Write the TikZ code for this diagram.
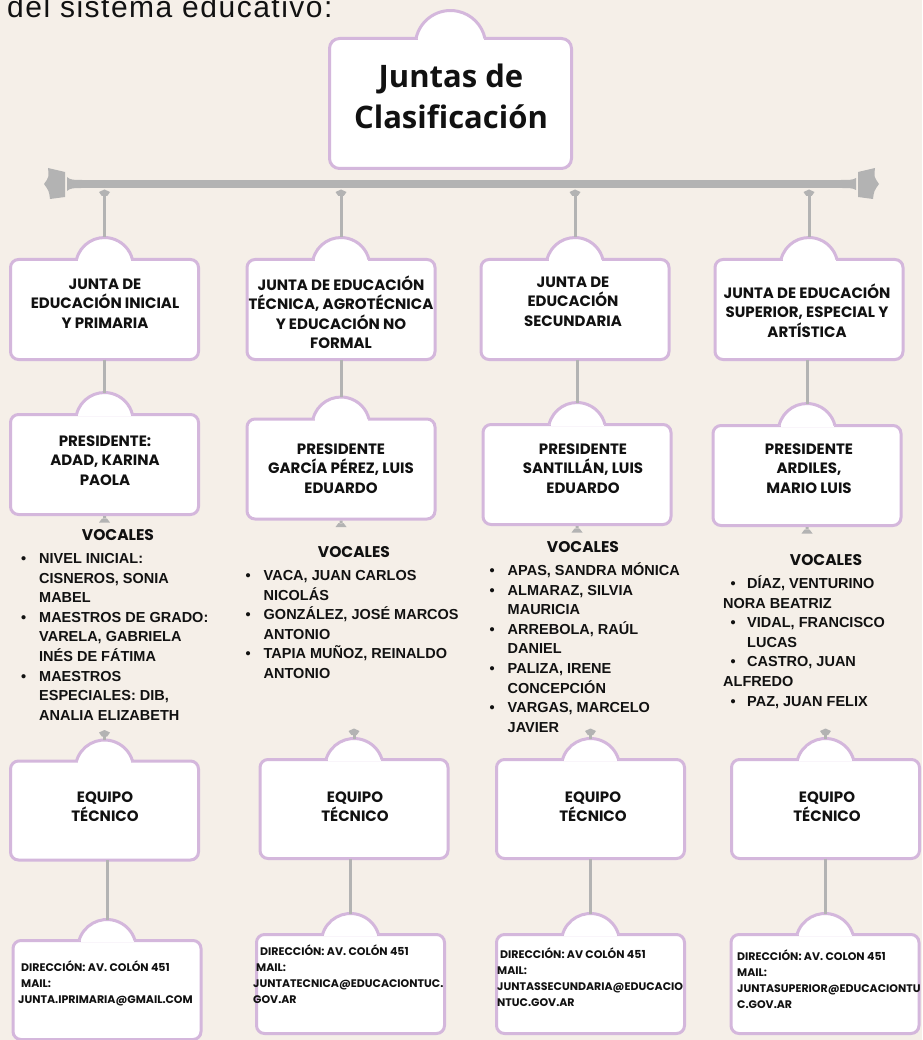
\documentclass[tikz,border=0pt]{standalone}
\usepackage{fontspec}
\setmainfont{Liberation Sans}
\newfontfamily\titlefont{Open Sans}
\newfontfamily\boxfont{Poppins}
\definecolor{fondo}{HTML}{F5EFE8}
\definecolor{lila}{HTML}{D4B7DC}
\definecolor{gris}{HTML}{B3B3B3}
\definecolor{tinta}{HTML}{111111}

% strut for the first line, bullets for the lists
\newcommand{\fs}{\rule{0pt}{1.05em}}
\newcommand{\vb}[1][18pt]{\makebox[#1][l]{\textbullet}}
\newcommand{\vi}{\hspace*{18pt}}
% tab on top of a box: node, half width, radius, start angle
\newcommand{\dome}[4]{%
  \fill[white] ([xshift=-#2pt+1.5pt,yshift=-1.6pt]#1.north) rectangle ([xshift=#2pt-1.5pt,yshift=2.5pt]#1.north);
  \filldraw[fill=white,draw=lila,line width=3pt] ([xshift=-#2pt]#1.north) arc[start angle=#4, end angle={540-#4}, radius=#3];
}

\begin{document}
\begin{tikzpicture}[x=1pt, y=-1pt, text=tinta,
  jbox/.style={draw=lila, line width=3pt, fill=white, rounded corners=8pt, minimum width=188pt, minimum height=100pt, inner sep=0pt, outer sep=0pt},
  btxt/.style={font=\boxfont\bfseries\fontsize{15}{19.5}\selectfont, align=center, inner sep=0pt, anchor=north},
  dtxt/.style={font=\boxfont\bfseries\fontsize{11}{16}\selectfont, align=left, inner sep=0pt, anchor=north west},
  vtit/.style={font=\boxfont\bfseries\fontsize{15.5}{18}\selectfont, inner sep=0pt},
  vlist/.style={font=\bfseries\fontsize{14.5}{19.6}\selectfont, align=left, inner sep=0pt, anchor=north west},
  link/.style={draw=gris, line width=3pt},
  crown/.pic={\fill[gris] (0,0) -- (5.5,2.5) -- (2.7,6.5) -- (-2.7,6.5) -- (-5.5,2.5) -- cycle;},
  bell/.pic={\fill[gris] (-1.5,0) rectangle (1.5,3) (-2.5,2.5) -- (2.5,2.5) -- (5.5,6.5) -- (-5.5,6.5) -- cycle;}]
	\useasboundingbox (0,0) rectangle (922,1040);
	\fill[fondo] (0,0) rectangle (922,1040);
	\node[anchor=base west, inner sep=0pt, font=\fontsize{30}{33}\selectfont\addfontfeatures{LetterSpace=5}] (intro) at (7,17.5) {del sistema educativo:};

	% bar
	\coordinate (barL) at (67,184);
	\coordinate (barR) at (856,184);
	\draw[gris, line width=8pt] (barL) -- (barR);
	\fill[gris] (67,177) .. controls (70,180) and (74,180) .. (82,180) -- (82,188) .. controls (74,188) and (70,188) .. (67,191) -- cycle;
	\fill[gris] (856,178) .. controls (853,180) and (849,180) .. (841,180) -- (841,188) .. controls (849,188) and (853,188) .. (856,190) -- cycle;
	\fill[gris] (48,168) -- (65,172) -- (65,197) -- (50,199) .. controls (49,191) .. (44,184) .. controls (49,177) .. (48,168) -- cycle;
	\fill[gris] (875,168) -- (858,172) -- (858,197) -- (873,199) .. controls (874,191) .. (879,184) .. controls (874,177) .. (875,168) -- cycle;

	% boxes
	\node[jbox, minimum width=242pt, minimum height=130pt, rounded corners=10pt] (titulo) at (450.5,103.5) {};
	\node[jbox] (jIni) at (104.5,309.5) {};
	\node[jbox] (jTec) at (341,309.5) {};
	\node[jbox] (jSec) at (575,309.5) {};
	\node[jbox] (jSup) at (809,309.5) {};
	\node[jbox] (pIni) at (104.5,464.5) {};
	\node[jbox] (pTec) at (341,469) {};
	\node[jbox] (pSec) at (577,474.5) {};
	\node[jbox] (pSup) at (807,475.5) {};
	\node[jbox, minimum height=99pt] (eIni) at (104.5,810.5) {};
	\node[jbox, minimum height=99pt] (eTec) at (354,809) {};
	\node[jbox, minimum height=99pt] (eSec) at (590.5,809) {};
	\node[jbox, minimum height=99pt] (eSup) at (825.5,809) {};
	\node[jbox, minimum height=99pt] (dIni) at (107,990) {};
	\node[jbox, minimum height=99pt] (dTec) at (350.5,984) {};
	\node[jbox, minimum height=99pt] (dSec) at (590.5,984) {};
	\node[jbox, minimum height=99pt] (dSup) at (825,984) {};
	\dome{titulo}{34.5}{35.25}{191.9}
	\foreach \n in {jIni,jTec,jSec,jSup,pIni,pTec,pSec,pSup} {\dome{\n}{28}{28.8}{193.7}}
	\foreach \n in {eIni,eTec,eSec,eSup,dIni,dTec,dSec,dSup} {\dome{\n}{28}{29.2}{196.3}}

	% connectors
	\foreach \c in {Ini,Tec,Sec,Sup} {
	  \pic at (j\c.north |- 0,189.5) {crown};
	  \draw[link] (j\c.north |- 0,195) -- ([yshift=22pt]j\c.north);
	  \draw[link] (p\c.north |- j\c.south) -- ([yshift=22pt]p\c.north);
	  \pic at ([yshift=-1.5pt]p\c.south) {bell};
	  \pic at ([yshift=31pt]e\c.north) {crown};
	  \draw[link] ([yshift=25pt]e\c.north) -- ([yshift=21pt]e\c.north);
	  \draw[link] (d\c.north |- e\c.south) -- ([yshift=21pt]d\c.north);
	}

	% texts
	\node[font=\titlefont\bfseries\fontsize{31}{41}\selectfont, align=center, inner sep=0pt, anchor=north] (tituloT) at (451,54.5) {\fs Juntas de\\Clasificación};
	\node[btxt] (jIniT) at (105,273.5) {\fs JUNTA DE\\EDUCACIÓN INICIAL\\Y PRIMARIA};
	\node[btxt] (jTecT) at (341,274.5) {\fs JUNTA DE EDUCACIÓN\\TÉCNICA, AGROTÉCNICA\\Y EDUCACIÓN NO\\FORMAL};
	\node[btxt] (jSecT) at (573,271.5) {\fs JUNTA DE\\EDUCACIÓN\\SECUNDARIA};
	\node[btxt] (jSupT) at (807,282.5) {\fs JUNTA DE EDUCACIÓN\\SUPERIOR, ESPECIAL Y\\ARTÍSTICA};
	\node[btxt] (pIniT) at (105,430.5) {\fs PRESIDENTE:\\ADAD, KARINA\\PAOLA};
	\node[btxt] (pTecT) at (341,438.5) {\fs PRESIDENTE\\GARCÍA PÉREZ, LUIS\\EDUARDO};
	\node[btxt] (pSecT) at (583,438.5) {\fs PRESIDENTE\\SANTILLÁN, LUIS\\EDUARDO};
	\node[btxt] (pSupT) at (809,438.5) {\fs PRESIDENTE\\ARDILES,\\MARIO LUIS};
	\node[btxt] (eIniT) at (105,786.5) {\fs EQUIPO\\TÉCNICO};
	\node[btxt] (eTecT) at (355,786.5) {\fs EQUIPO\\TÉCNICO};
	\node[btxt] (eSecT) at (593,786.5) {\fs EQUIPO\\TÉCNICO};
	\node[btxt] (eSupT) at (827,786.5) {\fs EQUIPO\\TÉCNICO};
	\node[dtxt] (dIniT) at (18,959.3) {\fs\hspace*{3pt}DIRECCIÓN: AV. COLÓN 451\\\hspace*{3pt}MAIL:\\JUNTA.IPRIMARIA@GMAIL.COM};
	\node[dtxt] (dTecT) at (253,943.3) {\fs\hspace*{7pt}DIRECCIÓN: AV. COLÓN 451\\\hspace*{3pt}MAIL:\\JUNTATECNICA@EDUCACIONTUC.\\GOV.AR};
	\node[dtxt] (dSecT) at (497,946.3) {\fs\hspace*{3pt}DIRECCIÓN: AV COLÓN 451\\MAIL:\\JUNTASSECUNDARIA@EDUCACIO\\NTUC.GOV.AR};
	\node[dtxt] (dSupT) at (737,948.3) {\fs DIRECCIÓN: AV. COLON 451\\MAIL:\\JUNTASUPERIOR@EDUCACIONTU\\C.GOV.AR};

	% vocales
	\node[vtit] (vIni) at (118,535) {VOCALES};
	\node[vtit] (vTec) at (354,552) {VOCALES};
	\node[vtit] (vSec) at (583,547) {VOCALES};
	\node[vtit] (vSup) at (826,560) {VOCALES};
	\node[vlist] (lIni) at (21,548) {\fs\vb NIVEL INICIAL:\\\vi CISNEROS, SONIA\\\vi MABEL\\\vb MAESTROS DE GRADO:\\\vi VARELA, GABRIELA\\\vi INÉS DE FÁTIMA\\\vb MAESTROS\\\vi ESPECIALES: DIB,\\\vi ANALIA ELIZABETH};
	\node[vlist] (lTec) at (245.5,565) {\fs\vb VACA, JUAN CARLOS\\\vi NICOLÁS\\\vb GONZÁLEZ, JOSÉ MARCOS\\\vi ANTONIO\\\vb TAPIA MUÑOZ, REINALDO\\\vi ANTONIO};
	\node[vlist] (lSec) at (489.5,560) {\fs\vb APAS, SANDRA MÓNICA\\\vb ALMARAZ, SILVIA\\\vi MAURICIA\\\vb ARREBOLA, RAÚL\\\vi DANIEL\\\vb PALIZA, IRENE\\\vi CONCEPCIÓN\\\vb VARGAS, MARCELO\\\vi JAVIER};
	\node[vlist] (lSup) at (723,573) {\fs\hspace*{7.5pt}\vb[16.5pt]DÍAZ, VENTURINO\\NORA BEATRIZ\\\hspace*{7.5pt}\vb[16.5pt]VIDAL, FRANCISCO\\\hspace*{24pt}LUCAS\\\hspace*{7.5pt}\vb[16.5pt]CASTRO, JUAN\\ALFREDO\\\hspace*{7.5pt}\vb[16.5pt]PAZ, JUAN FELIX};
\end{tikzpicture}
\end{document}
